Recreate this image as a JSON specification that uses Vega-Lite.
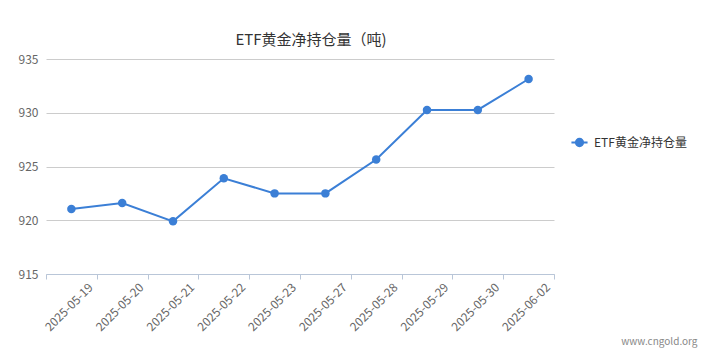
{
  "$schema": "https://vega.github.io/schema/vega-lite/v6.json",
  "autosize": "none",
  "width": 508,
  "height": 215,
  "padding": {"left": 46, "top": 59, "right": 155, "bottom": 85},
  "background": "white",
  "title": {
    "text": "ETF黄金净持仓量（吨)",
    "font": "Noto Sans CJK SC",
    "fontSize": 15,
    "fontWeight": "normal",
    "color": "#333333",
    "anchor": "middle",
    "dx": 11,
    "offset": 5
  },
  "config": {
    "view": {"stroke": null},
    "axis": {"labelFont": "Noto Sans CJK SC", "titleFont": "Noto Sans CJK SC"},
    "legend": {"labelFont": "Noto Sans CJK SC"}
  },
  "data": {
    "values": [
      {"date": "2025-05-19", "value": 921.05},
      {"date": "2025-05-20", "value": 921.6},
      {"date": "2025-05-21", "value": 919.9},
      {"date": "2025-05-22", "value": 923.9},
      {"date": "2025-05-23", "value": 922.5},
      {"date": "2025-05-27", "value": 922.5},
      {"date": "2025-05-28", "value": 925.65},
      {"date": "2025-05-29", "value": 930.26},
      {"date": "2025-05-30", "value": 930.26},
      {"date": "2025-06-02", "value": 933.14}
    ]
  },
  "encoding": {
    "x": {
      "field": "date",
      "type": "ordinal",
      "sort": null,
      "scale": {"paddingInner": 0, "paddingOuter": 0},
      "axis": {
        "title": "www.cngold.org",
        "titleFontSize": 10,
        "titleFontWeight": "normal",
        "titleColor": "#888888",
        "titleAnchor": "end",
        "titleAlign": "right",
        "titleX": 651,
        "titleY": 62,
        "labelAngle": -45,
        "labelAlign": "right",
        "labelBaseline": "middle",
        "labelOffset": 19,
        "labelPadding": 6,
        "labelFontSize": 12,
        "labelColor": "#666666",
        "tickBand": "extent",
        "tickSize": 5,
        "tickColor": "#b9c6d8",
        "domainColor": "#b9c6d8",
        "grid": false
      }
    },
    "y": {
      "field": "value",
      "type": "quantitative",
      "scale": {"domain": [915, 935], "nice": false, "zero": false},
      "axis": {
        "title": null,
        "values": [915, 920, 925, 930, 935],
        "labelFontSize": 12,
        "labelColor": "#666666",
        "labelPadding": 8,
        "domain": false,
        "ticks": false,
        "grid": true,
        "gridColor": "#cccccc",
        "gridWidth": 1
      }
    },
    "color": {
      "datum": "ETF黄金净持仓量",
      "type": "nominal",
      "scale": {"range": ["#3b7fd6"]},
      "legend": {
        "title": null,
        "orient": "none",
        "legendX": 524,
        "legendY": 74,
        "labelFontSize": 12,
        "labelColor": "#333333",
        "symbolType": "M-1,0L-0.45,0M0.45,0L1,0M-0.45,0A0.45,0.45 0 1,1 0.45,0A0.45,0.45 0 1,1 -0.45,0Z",
        "symbolSize": 260,
        "symbolStrokeWidth": 2,
        "symbolFillColor": "#3b7fd6",
        "symbolStrokeColor": "#3b7fd6",
        "labelOffset": 5
      }
    }
  },
  "layer": [
    {"mark": {"type": "line", "strokeWidth": 2}},
    {"mark": {"type": "point", "filled": true, "size": 72, "opacity": 1}}
  ]
}
